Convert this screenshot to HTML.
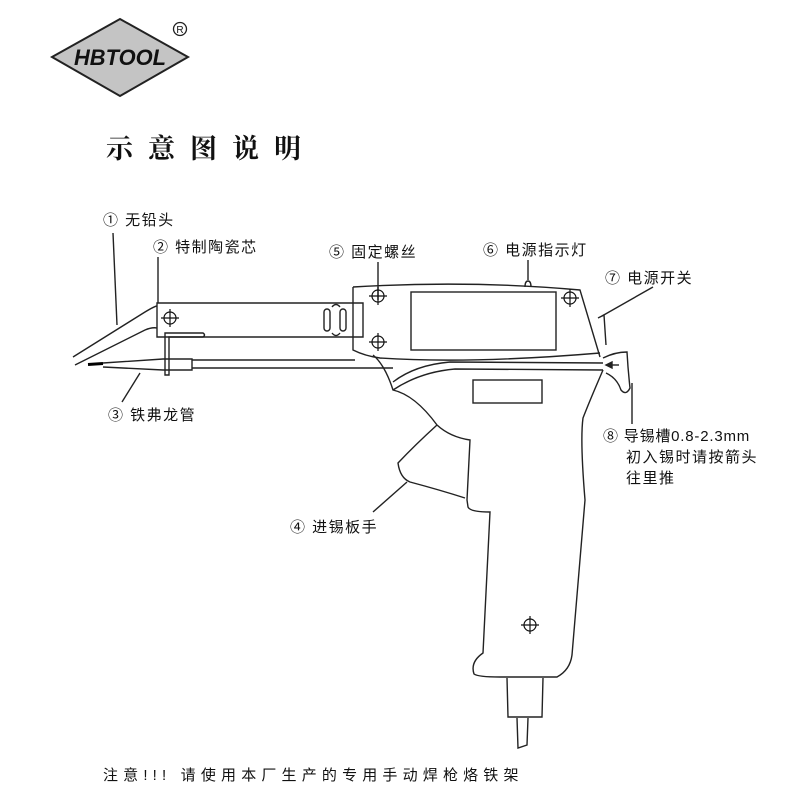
<!DOCTYPE html>
<html><head><meta charset="utf-8"><style>
body{margin:0;background:#fff}
svg{display:block}
text{font-family:"Liberation Sans","Noto Sans CJK SC",sans-serif;fill:#111}
</style></head><body>
<svg width="800" height="800" viewBox="0 0 800 800" xmlns="http://www.w3.org/2000/svg">
<polygon points="52,57 120,19 188,57 120,96" fill="#c4c4c4" stroke="#222" stroke-width="2"/>
<text x="120" y="65" font-size="22" font-weight="bold" font-style="italic" text-anchor="middle" textLength="92" lengthAdjust="spacingAndGlyphs" style="fill:#111">HBTOOL</text>
<circle cx="180" cy="29" r="6.5" fill="none" stroke="#222" stroke-width="1.3"/>
<text x="180" y="33" font-size="10" text-anchor="middle">R</text>
<text x="106" y="158" font-size="27" font-weight="bold" letter-spacing="15" style="font-family:'Noto Serif CJK SC',serif">示意图说明</text>

<g fill="none" stroke="#222" stroke-width="1.4">
<path d="M353,287 Q470,280 580,290 L600,357"/>
<path d="M353,287 L353,350 Q365,356 380,358 Q470,364 600,353"/>
<rect x="411" y="292" width="145" height="58"/>
<path d="M525,287 Q525,281 528,281 Q531,281 531,287"/>
<path d="M598,318 L604,315 L606,345"/>
<path d="M373,355 Q385,365 393,390 Q415,395 437,425"/>
<path d="M393,382 Q415,365 450,362 L603,363"/>
<path d="M393,390 Q420,372 455,369 L603,370"/>
<rect x="473" y="380" width="69" height="23"/>
<path d="M437,425 Q450,437 470,440 L467,500 L468,507 Q470,512 490,512 L483,653 Q470,662 474,674 Q478,677 500,677 L557,677 Q570,670 572,655 L585,500 Q580,440 583,418 Q590,400 603,370"/>
<path d="M437,425 Q415,445 398,463 Q400,478 410,482 Q440,490 465,498"/>
<path d="M603,358 Q615,352 627,352 Q628,370 630,388 Q626,396 621,390 Q617,378 606,373"/>
<path d="M619,365 L607,365"/>
<path d="M606,365 L612,362 L612,368 Z" fill="#222"/>
<path d="M507,678 L508,717 L542,717 L543,678"/>
<path d="M517,718 L518,748 L527,745 L528,718"/>
<path d="M352,303 L157,303 L157,337 L363,337 L363,303 L352,303"/>
<rect x="324" y="309" width="6" height="22" rx="3"/>
<rect x="340" y="309" width="6" height="22" rx="3"/>
<path d="M332,307 Q336,302 340,307"/><path d="M332,333 Q336,338 340,333"/>
<path d="M73,357 L145,312 Q155,306 157,306"/>
<path d="M75,365 L145,330 Q152,327 157,328"/>
<path d="M165,375 L165,333 L203,333 Q206,335 203,337 L169,337 L169,375 Z"/>
<path d="M103,363 L163,359 L192,359 L192,370 L163,370 L103,367"/>
<path d="M192,360 L355,360 M192,368 L393,368"/>
<path d="M113,233 L117,325"/>
<path d="M158,257 L158,303"/>
<path d="M140,373 L122,402"/>
<path d="M378,262 L378,300"/>
<path d="M528,260 L528,280"/>
<path d="M653,287 L602,316"/>
<path d="M632,383 L632,424"/>
<path d="M407,482 L373,512"/>
</g>
<g stroke="#111" stroke-width="1.2" fill="none">
<circle cx="170" cy="318" r="6"/><path d="M161,318h18M170,309v18"/>
<circle cx="378" cy="296" r="6"/><path d="M369,296h18M378,287v18"/>
<circle cx="378" cy="342" r="6"/><path d="M369,342h18M378,333v18"/>
<circle cx="570" cy="298" r="6"/><path d="M561,298h18M570,289v18"/>
<circle cx="530" cy="625" r="6"/><path d="M521,625h18M530,616v18"/>
</g>
<path d="M88,364.5 L103,363.5" stroke="#000" stroke-width="3"/>
<g font-size="15" letter-spacing="1.5">
<text x="103" y="225">① 无铅头</text>
<text x="153" y="252">② 特制陶瓷芯</text>
<text x="329" y="257">⑤ 固定螺丝</text>
<text x="483" y="255">⑥ 电源指示灯</text>
<text x="605" y="283">⑦ 电源开关</text>
<text x="603" y="441" letter-spacing="0.8">⑧ 导锡槽0.8-2.3mm</text>
<text x="626" y="462">初入锡时请按箭头</text>
<text x="626" y="483">往里推</text>
<text x="108" y="420">③ 铁弗龙管</text>
<text x="290" y="532">④ 进锡板手</text>
<text x="103" y="780" textLength="417" lengthAdjust="spacing">注意!!!    请使用本厂生产的专用手动焊枪烙铁架</text>
</g>
</svg>
</body></html>
